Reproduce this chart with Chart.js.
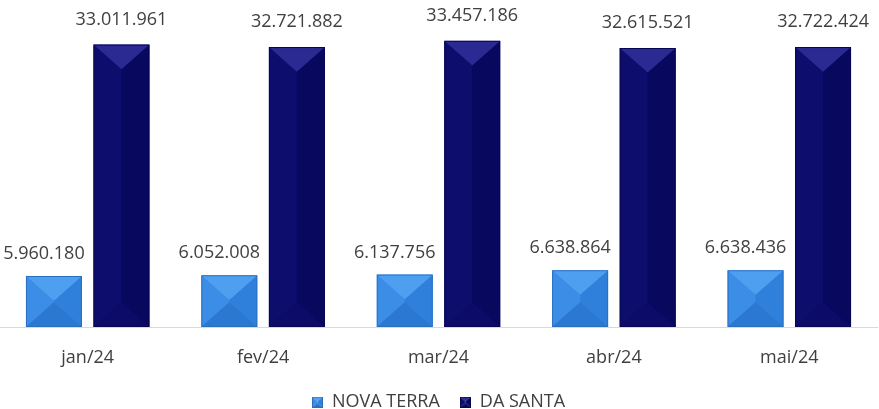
<!DOCTYPE html>
<html><head><meta charset="utf-8">
<script src="https://cdn.jsdelivr.net/npm/chart.js@4/dist/chart.umd.min.js"></script>
<style>html,body{margin:0;padding:0;background:#fff}#wrap{width:879px;height:409px}</style>
</head><body><div id="wrap"><canvas id="c" width="879" height="409"></canvas></div>
<script>
const categories = ['jan/24', 'fev/24', 'mar/24', 'abr/24', 'mai/24'];
const seriesNames = ['NOVA TERRA', 'DA SANTA'];
const novaTerra = [5960180, 6052008, 6137756, 6638864, 6638436];
const daSanta = [33011961, 32721882, 33457186, 32615521, 32722424];

const palettes = [
  {base: '#3384dc', top: '#4f9ff1', left: '#3b8de6', right: '#2f80da', bottom: '#2b78d0', edge: '#2a6ec0'},
  {base: '#0b0b68', top: '#2a2a92', left: '#0d0d6d', right: '#08085f', bottom: '#0c0c68', edge: '#07074f'}
];
const labelOffsets = [{dx: -10, dy: -22}, {dx: 0, dy: -25}];
const FONT = '"Open Sans", "Liberation Sans", sans-serif';
const TEXT = '#404040';

function fmt(v) { return String(v).replace(/\B(?=(\d{3})+(?!\d))/g, '.'); }

function facets(ctx, L, T, R, B, p) {
  const w = R - L, h = B - T, cx = (L + R) / 2;
  const d = Math.min(w * 0.44, h / 2);
  ctx.save();
  ctx.beginPath(); ctx.rect(L, T, w, h); ctx.clip();
  const poly = (pts, fill) => {
    ctx.beginPath(); ctx.moveTo(pts[0][0], pts[0][1]);
    for (let i = 1; i < pts.length; i++) ctx.lineTo(pts[i][0], pts[i][1]);
    ctx.closePath(); ctx.fillStyle = fill; ctx.fill();
  };
  poly([[L, T], [cx, T + d], [cx, B - d], [L, B]], p.left);
  poly([[R, T], [cx, T + d], [cx, B - d], [R, B]], p.right);
  poly([[L, B], [cx, B - d], [R, B]], p.bottom);
  poly([[L, T], [R, T], [cx, T + d]], p.top);
  ctx.strokeStyle = p.edge; ctx.lineWidth = 1;
  ctx.strokeRect(L + 0.5, T + 0.5, w - 1, h - 1);
  ctx.restore();
}

function legendIcon(p) {
  const c = document.createElement('canvas');
  c.width = 11; c.height = 11;
  facets(c.getContext('2d'), 0, 0, 11, 11, p);
  return c;
}

const bevelPlugin = {
  id: 'bevel',
  afterDatasetsDraw(chart) {
    const ctx = chart.ctx;
    chart.data.datasets.forEach((ds, i) => {
      const meta = chart.getDatasetMeta(i);
      meta.data.forEach((bar) => {
        const pr = bar.getProps(['x', 'y', 'base', 'width'], true);
        facets(ctx, pr.x - pr.width / 2, pr.y, pr.x + pr.width / 2, pr.base, palettes[i]);
      });
    });
    ctx.save();
    ctx.font = '18px ' + FONT;
    ctx.fillStyle = TEXT;
    ctx.textAlign = 'center';
    ctx.textBaseline = 'middle';
    chart.data.datasets.forEach((ds, i) => {
      const meta = chart.getDatasetMeta(i);
      meta.data.forEach((bar, j) => {
        const pr = bar.getProps(['x', 'y'], true);
        ctx.fillText(fmt(ds.data[j]), pr.x + labelOffsets[i].dx, pr.y + labelOffsets[i].dy);
      });
    });
    ctx.restore();
  }
};

new Chart(document.getElementById('c'), {
  type: 'bar',
  data: {
    labels: categories,
    datasets: [
      {label: seriesNames[0], data: novaTerra, backgroundColor: palettes[0].base},
      {label: seriesNames[1], data: daSanta, backgroundColor: palettes[1].base}
    ]
  },
  options: {
    responsive: false,
    animation: false,
    devicePixelRatio: 1,
    categoryPercentage: 0.77,
    barPercentage: 0.83,
    layout: {padding: {top: 19, left: 0, right: 2, bottom: -12}},
    scales: {
      x: {
        grid: {display: false},
        border: {display: true, color: '#d9d9d9', width: 1},
        ticks: {font: {family: FONT, size: 18}, color: TEXT, padding: 12},
        afterFit: (scale) => { scale.height = 46; }
      },
      y: {display: false, min: 0, max: 36000000}
    },
    plugins: {
      tooltip: {enabled: false},
      legend: {
        position: 'bottom',
        labels: {
          font: {family: FONT, size: 18},
          color: TEXT,
          usePointStyle: true,
          boxWidth: 11, boxHeight: 11,
          padding: 20,
          generateLabels: (chart) => chart.data.datasets.map((ds, i) => ({
            text: ds.label,
            pointStyle: legendIcon(palettes[i]),
            fillStyle: palettes[i].base,
            strokeStyle: palettes[i].base,
            lineWidth: 0,
            datasetIndex: i,
            hidden: false,
            fontColor: TEXT
          }))
        }
      }
    }
  },
  plugins: [bevelPlugin]
});
</script>
</body></html>
